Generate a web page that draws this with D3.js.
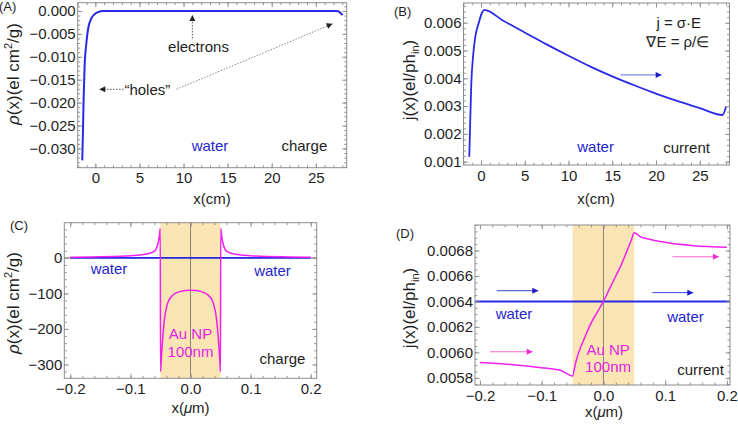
<!DOCTYPE html>
<html><head><meta charset="utf-8">
<script src="https://cdn.jsdelivr.net/npm/d3@7"></script>
<style>
body{margin:0;background:#fff}
svg{display:block}
text{font-family:"Liberation Sans",Arial,sans-serif}
</style>
</head><body>
<svg id="chart" width="738" height="427"></svg>
<script>
// ---------------- DATA ----------------
// Panel A: charge density in water (x in cm)
const aX   = [-1.48,-1.41,-1.33,-1.22,-1.02,-0.84,-0.45,0.11,0.86,3,8,13,18,23,27.4,28.05];
const aRho = [-0.0326,-0.0267,-0.0194,-0.0122,-0.0071,-0.0041,-0.0016,-0.0004,0,0,0,0,0,0,0,-0.0009];
// Panel B: current in water (x in cm)
const bX = [-1.34,-1.22,-1.11,-0.91,-0.65,-0.27,0.1,0.38,2.5,5,7.5,10,12.5,15,17.5,20,22.5,25,27.6,28.0];
const bJ = [0.00118,0.00259,0.00379,0.00478,0.0055,0.00598,0.00635,0.00646,0.00608,0.00565,0.00522,0.00481,0.00442,0.00407,0.00375,0.00345,0.00318,0.00293,0.00268,0.00298];
// Panel C: charge density around Au NP (x in um)
const cX   = [-0.2,-0.165,-0.108,-0.075,-0.0605,-0.055,-0.052,-0.0503,-0.0499,-0.0485,-0.0464,-0.0436,-0.038,-0.0295,-0.018,0,0.018,0.0295,0.038,0.0436,0.0464,0.0485,0.0499,0.0503,0.052,0.055,0.0605,0.075,0.108,0.165,0.2];
const cRho = [1.5,2.5,5,10,18,35,60,83,-320,-280,-230,-176,-128,-105,-95,-91,-95,-105,-128,-176,-230,-280,-320,83,60,35,18,10,5,2.5,1.5];
const cWaterX = [-0.2, 0.2];
const cWaterRho = [0, 0];
// Panel D: current around Au NP (x in um)
const dX = [-0.2,-0.15,-0.1,-0.07,-0.05,-0.045,-0.04,-0.03,-0.02,-0.01,0,0.01,0.02,0.03,0.04,0.045,0.05,0.0595,0.075,0.0919,0.1459,0.2];
const dJ = [0.00592,0.005905,0.00588,0.00586,0.005815,0.00592,0.006,0.00612,0.00623,0.006315,0.0064,0.0065,0.0066,0.0067,0.00682,0.00688,0.00694,0.006909,0.006888,0.00687,0.006838,0.006826];
const dWaterX = [-0.21, 0.21];
const dWaterJ = [0.0064, 0.0064];
// Nanoparticle extent (um)
const npBand = [-0.05, 0.05];

// Tick values
const abXTicks = [0,5,10,15,20,25];
const aYTicks = [0,-0.005,-0.010,-0.015,-0.020,-0.025,-0.030];
const bYTicks = [0.001,0.002,0.003,0.004,0.005,0.006];
const cdXTicks = [-0.2,-0.1,0,0.1,0.2];
const cYTicks = [0,-100,-200,-300];
const dYTicks = [0.0058,0.0060,0.0062,0.0064,0.0066,0.0068];

// ---------------- STYLE ----------------
const BLUE = "#2a2ae6", BLUE_TXT = "#2525cc", MAG = "#f020f0", MAG_TXT = "#e41fe4";
const FRAME = "#8c8c8c", TXT = "#1e1e1e", BAND = "#fbe5b4";
const FS = 15, FS_Y = 17;

const svg = d3.select("#chart");
const defs = svg.append("defs");
function marker(id, color) {
  defs.append("marker").attr("id", id).attr("viewBox", "0 0 10 10")
    .attr("refX", 10).attr("refY", 5).attr("markerWidth", 7).attr("markerHeight", 6)
    .attr("markerUnits", "userSpaceOnUse").attr("orient", "auto")
    .append("path").attr("d", "M0,0 L10,5 L0,10 Z").attr("fill", color);
}
marker("mBlue", "#1a1ac8");
marker("mMag", "#f02ad0");
marker("mGrey", "#222");

function panel(o) {
  const x = d3.scaleLinear().domain(o.xDomain).range([o.left, o.right]);
  const y = d3.scaleLinear().domain(o.yDomain).range([o.bottom, o.top]);
  const g = svg.append("g");
  defs.append("clipPath").attr("id", "clip" + o.name).append("rect")
    .attr("x", o.left).attr("y", o.top).attr("width", o.right - o.left).attr("height", o.bottom - o.top);
  const plot = g.append("g").attr("clip-path", `url(#clip${o.name})`);
  if (o.band) {
    plot.append("rect").attr("x", x(o.band[0])).attr("y", o.top)
      .attr("width", x(o.band[1]) - x(o.band[0])).attr("height", o.bottom - o.top).attr("fill", BAND);
  }
  if (o.vAxis) {
    plot.append("line").attr("x1", x(0)).attr("x2", x(0)).attr("y1", o.top).attr("y2", o.bottom)
      .attr("stroke", "#8a8478").attr("stroke-width", 1);
  }
  if (o.hAxis) {
    plot.append("line").attr("x1", o.left).attr("x2", o.right).attr("y1", y(0)).attr("y2", y(0))
      .attr("stroke", "#8a8478").attr("stroke-width", 1);
  }
  const styleAxis = sel => {
    sel.select(".domain").remove();
    sel.selectAll(".tick line").attr("stroke", FRAME).attr("stroke-width", 0.9);
    sel.selectAll(".tick text").attr("fill", TXT).attr("font-size", FS)
      .attr("font-family", '"Liberation Sans",Arial,sans-serif');
    sel.attr("font-size", null).attr("font-family", null);
  };
  const xMinor = d3.range(o.xMinor[0], o.xMinor[1] + o.xMinor[2] / 2, o.xMinor[2]);
  const yMinor = d3.range(o.yMinor[0], o.yMinor[1] + o.yMinor[2] / 2, o.yMinor[2]);
  g.append("g").attr("transform", `translate(0,${o.bottom})`)
    .call(d3.axisBottom(x).tickValues(o.xTicks).tickSize(-4.5).tickPadding(5).tickFormat(d3.format(o.xFmt))).call(styleAxis);
  g.append("g").attr("transform", `translate(0,${o.bottom})`)
    .call(d3.axisBottom(x).tickValues(xMinor).tickSize(-2.5).tickFormat("")).call(styleAxis);
  g.append("g").attr("transform", `translate(0,${o.top})`)
    .call(d3.axisTop(x).tickValues(o.xTicks).tickSize(-4.5).tickFormat("")).call(styleAxis);
  g.append("g").attr("transform", `translate(0,${o.top})`)
    .call(d3.axisTop(x).tickValues(xMinor).tickSize(-2.5).tickFormat("")).call(styleAxis);
  g.append("g").attr("transform", `translate(${o.left},0)`)
    .call(d3.axisLeft(y).tickValues(o.yTicks).tickSize(-4.5).tickPadding(2).tickFormat(d3.format(o.yFmt))).call(styleAxis);
  g.append("g").attr("transform", `translate(${o.left},0)`)
    .call(d3.axisLeft(y).tickValues(yMinor).tickSize(-2.5).tickFormat("")).call(styleAxis);
  g.append("g").attr("transform", `translate(${o.right},0)`)
    .call(d3.axisRight(y).tickValues(o.yTicks).tickSize(-4.5).tickFormat("")).call(styleAxis);
  g.append("g").attr("transform", `translate(${o.right},0)`)
    .call(d3.axisRight(y).tickValues(yMinor).tickSize(-2.5).tickFormat("")).call(styleAxis);
  g.append("rect").attr("x", o.left).attr("y", o.top).attr("width", o.right - o.left)
    .attr("height", o.bottom - o.top).attr("fill", "none").attr("stroke", FRAME).attr("stroke-width", 1);
  return { x, y, g, plot };
}

function series(p, xs, ys, color, w) {
  const line = d3.line().x((d, i) => p.x(xs[i])).y((d, i) => p.y(ys[i])).curve(d3.curveMonotoneX);
  p.plot.append("path").attr("d", line(xs)).attr("fill", "none").attr("stroke", color)
    .attr("stroke-width", w).attr("stroke-linejoin", "round");
}
function label(p, tx, ty, str, color, anchor) {
  return p.g.append("text").attr("x", p.x(tx)).attr("y", p.y(ty)).attr("font-size", FS)
    .attr("fill", color).attr("text-anchor", anchor || "middle").text(str);
}
function arrow(p, x1, y1, x2, y2, color, mk, dash, w) {
  p.g.append("line").attr("x1", p.x(x1)).attr("y1", p.y(y1)).attr("x2", p.x(x2)).attr("y2", p.y(y2))
    .attr("stroke", color).attr("stroke-width", w || 1).attr("stroke-dasharray", dash || null)
    .attr("marker-end", `url(#${mk})`);
}
function yTitle(cx, cy, build) {
  const t = svg.append("text").attr("transform", `translate(${cx},${cy}) rotate(-90)`)
    .attr("text-anchor", "middle").attr("font-size", FS_Y).attr("fill", TXT);
  build(t);
}
function xTitle(cx, cy, build) {
  const t = svg.append("text").attr("x", cx).attr("y", cy).attr("text-anchor", "middle")
    .attr("font-size", FS).attr("fill", TXT);
  build(t);
}
function tag(px, py, str) {
  svg.append("text").attr("x", px).attr("y", py).attr("font-size", 13).attr("fill", TXT).text(str);
}
function rhoTitle(t) {
  t.append("tspan").attr("font-style", "italic").text("\u03c1");
  t.append("tspan").text("(x)(el cm");
  t.append("tspan").attr("dy", -7).attr("font-size", 11).text("2");
  t.append("tspan").attr("dy", 7).text("/g)");
}
function jTitle(t) {
  t.append("tspan").text("j(x)(el/ph");
  t.append("tspan").attr("dy", 4).attr("font-size", 11).text("in");
  t.append("tspan").attr("dy", -4).text(")");
}
function umTitle(t) {
  t.append("tspan").text("x(");
  t.append("tspan").attr("font-style", "italic").text("\u03bc");
  t.append("tspan").text("m)");
}

// ---------------- PANEL A ----------------
const pA = panel({ name: "A", left: 77.7, right: 346.7, top: 2.7, bottom: 167.7,
  xDomain: [-2, 28.5], yDomain: [-0.0342, 0.0018],
  xTicks: abXTicks, yTicks: aYTicks, xFmt: "d", yFmt: ".3f",
  xMinor: [-2, 28, 1], yMinor: [-0.034, 0.001, 0.001] });
series(pA, aX, aRho, BLUE, 2);
arrow(pA, 11, -0.006, 11, -0.0009, "#555", "mGrey", "1.5,1.5", 1);
label(pA, 11.7, -0.009, "electrons", TXT);
label(pA, 5.9, -0.0184, "\u201choles\u201d", TXT);
arrow(pA, 3.2, -0.0171, 0.45, -0.0171, "#555", "mGrey", "1.5,1.5", 1);
arrow(pA, 9.2, -0.0171, 26.9, -0.0028, "#888", "mGrey", "1.5,1.5", 1);
label(pA, 13.0, -0.0305, "water", BLUE_TXT);
label(pA, 23.7, -0.0305, "charge", TXT);
yTitle(19, 74, rhoTitle);
xTitle(212, 203.5, t => t.text("x(cm)"));
tag(-1, 11, "(A)");

// ---------------- PANEL B ----------------
const pB = panel({ name: "B", left: 463.5, right: 729.5, top: 3, bottom: 165,
  xDomain: [-2, 28.4], yDomain: [0.00088, 0.00671],
  xTicks: abXTicks, yTicks: bYTicks, xFmt: "d", yFmt: ".3f",
  xMinor: [-2, 28, 1], yMinor: [0.001, 0.0066, 0.0002] });
series(pB, bX, bJ, BLUE, 1.8);
arrow(pB, 15.97, 0.00412, 20.65, 0.00412, "#7f8cf2", "mBlue", null, 1.3);
label(pB, 22.6, 0.00582, "j = \u03c3\u00b7E", TXT);
label(pB, 22.5, 0.00514, "\u2207E = \u03c1/\u2208", TXT);
label(pB, 13.1, 0.00135, "water", BLUE_TXT);
label(pB, 23.5, 0.00131, "current", TXT);
yTitle(415, 80, jTitle);
xTitle(596, 203.5, t => t.text("x(cm)"));
tag(394, 16, "(B)");

// ---------------- PANEL C ----------------
const pC = panel({ name: "C", left: 64.3, right: 316.7, top: 222.7, bottom: 378.3,
  xDomain: [-0.21, 0.21], yDomain: [-339, 99], band: npBand, vAxis: true, hAxis: true,
  xTicks: cdXTicks, yTicks: cYTicks, xFmt: ".1f", yFmt: "d",
  xMinor: [-0.2, 0.2, 0.02], yMinor: [-320, 80, 20] });
series(pC, cWaterX, cWaterRho, BLUE, 1.6);
series(pC, cX, cRho, MAG, 1.5);
label(pC, -0.1356, -44, "water", BLUE_TXT);
label(pC, 0.1365, -50, "water", BLUE_TXT);
label(pC, 0, -229, "Au NP", MAG_TXT);
label(pC, 0, -280, "100nm", MAG_TXT);
label(pC, 0.153, -299, "charge", TXT);
yTitle(19, 303, rhoTitle);
xTitle(190.5, 413, umTitle);
tag(10, 230, "(C)");

// ---------------- PANEL D ----------------
const pD = panel({ name: "D", left: 475, right: 730, top: 225, bottom: 385,
  xDomain: [-0.208, 0.205], yDomain: [0.005744, 0.0070], band: npBand, vAxis: true,
  xTicks: cdXTicks, yTicks: dYTicks, xFmt: ".1f", yFmt: ".4f",
  xMinor: [-0.2, 0.2, 0.02], yMinor: [0.00575, 0.007, 0.00005] });
series(pD, dWaterX, dWaterJ, BLUE, 2);
series(pD, dX, dJ, MAG, 1.5);
arrow(pD, -0.1729, 0.006484, -0.1055, 0.006484, "#3a46e0", "mBlue", null, 1);
arrow(pD, 0.0792, 0.006469, 0.1456, 0.006469, "#3a46e0", "mBlue", null, 1);
arrow(pD, -0.1837, 0.006005, -0.1145, 0.006005, "#ff66cc", "mMag", null, 1);
arrow(pD, 0.1116, 0.006751, 0.1871, 0.006751, "#ff66cc", "mMag", null, 1);
label(pD, -0.1448, 0.006262, "water", BLUE_TXT);
label(pD, 0.1329, 0.006241, "water", BLUE_TXT);
label(pD, 0.0075, 0.005979, "Au NP", MAG_TXT);
label(pD, 0.0075, 0.005844, "100nm", MAG_TXT);
label(pD, 0.1572, 0.005822, "current", TXT);
yTitle(415, 308, jTitle);
xTitle(604, 417, umTitle);
tag(396, 238, "(D)");
</script>
</body></html>
